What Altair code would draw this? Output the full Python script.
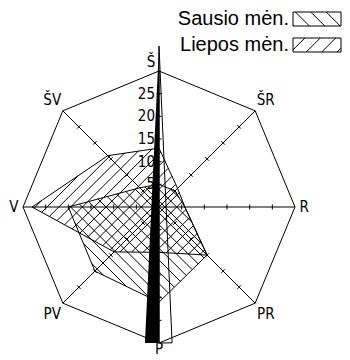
import math
import altair as alt
import pandas as pd

# ---- data ----
directions = ["Š", "ŠR", "R", "PR", "P", "PV", "V", "ŠV"]
dir_angles = [90, 45, 0, -45, -90, -135, 180, 135]
series_names = ["Sausio mėn.", "Liepos mėn."]
sausio = [5, 5, 5.7, 15, 21, 20, 20, 6]
liepos = [13, 5.8, 5.7, 15, 10, 14, 28, 16]
r_max = 30
tick_values = [5, 10, 15, 20, 25]
spike_angles = [90, -90, -95.9]
spike_r = [35.5, 30, 30.2]
sliver_angles = [90, -84.5, -90]
sliver_r = [35.5, 30.1, 30]

# ---- geometry helpers ----
PX = 136 / 30          # pixels per unit
CXP, CYP = 159, 207     # page position of the centre


def pt(r, a):
    t = math.radians(a)
    return (r * math.cos(t), r * math.sin(t))


def page_to_data(px, py):
    return ((px - CXP) / PX, (CYP - py) / PX)


segs = []


def seg(p, q, kind="line"):
    segs.append(dict(x=p[0], y=p[1], x2=q[0], y2=q[1], kind=kind))


def outline(poly, kind="line"):
    n = len(poly)
    for i in range(n):
        seg(poly[i], poly[(i + 1) % n], kind)


def hatch(poly, d, step, kind="hatch"):
    # d=+1 -> '/', d=-1 -> '\'
    us = [x - d * y for x, y in poly]
    vs = [x + d * y for x, y in poly]
    n = len(poly)
    k0 = math.floor(min(us) / step) - 1
    k1 = math.ceil(max(us) / step) + 1
    for k in range(k0, k1 + 1):
        c = (k + 0.5) * step
        hits = []
        for i in range(n):
            j = (i + 1) % n
            ui, uj = us[i], us[j]
            if (ui <= c < uj) or (uj <= c < ui):
                t = (c - ui) / (uj - ui)
                hits.append(vs[i] + t * (vs[j] - vs[i]))
        hits.sort()
        for a, b in zip(hits[0::2], hits[1::2]):
            seg(((c + a) / 2, d * (a - c) / 2), ((c + b) / 2, d * (b - c) / 2), kind)


# frame, axes, ticks
frame = [pt(r_max, a) for a in dir_angles]
outline(frame, "frame")
for a in dir_angles:
    seg((0, 0), pt(r_max, a), "axis")
    for tv in tick_values:
        cx, cy = pt(tv, a)
        ox, oy = pt(0.55, a + 90)
        seg((cx - ox, cy - oy), (cx + ox, cy + oy), "tick")

# series polygons with hatching
poly_s = [pt(v, a) for v, a in zip(sausio, dir_angles)]
poly_l = [pt(v, a) for v, a in zip(liepos, dir_angles)]
HSTEP = 2.6
hatch(poly_s, -1, HSTEP)
hatch(poly_l, +1, HSTEP)
outline(poly_s)
outline(poly_l)

# thin outlined sliver
outline([pt(r, a) for r, a in zip(sliver_r, sliver_angles)])

# legend swatches
legend_boxes = []
for i, name in enumerate(series_names):
    top = 12 + 26 * i
    x0, y0 = page_to_data(293, top)
    x1, y1 = page_to_data(341, top + 14)
    box = [(x0, y0), (x1, y0), (x1, y1), (x0, y1)]
    outline(box)
    hatch(box, -1 if i == 0 else +1, 3.4)
    tx, ty = page_to_data(289, top + 7)
    legend_boxes.append(dict(name=name, x=tx, y=ty))

seg_df = pd.DataFrame(segs)

# black spike
apex = pt(spike_r[0], spike_angles[0])
b1 = pt(spike_r[1], spike_angles[1])
b2 = pt(spike_r[2], spike_angles[2])
spike_df = pd.DataFrame([
    dict(x=apex[0], x2=apex[0], y=apex[1]),
    dict(x=b2[0], x2=b1[0], y=(b1[1] + b2[1]) / 2),
])

# labels
lab = []
for d, a in zip(directions, dir_angles):
    if a == -90:
        rr = 31.4
    elif a % 90 == 0:
        rr = 32
    else:
        rr = 33.3
    x, y = pt(rr, a)
    lab.append(dict(label=d, x=x, y=y))
lab_df = pd.DataFrame(lab)
tick_df = pd.DataFrame(dict(x=[0.0] * len(tick_values), y=tick_values,
                            label=[str(v) for v in tick_values]))
leg_df = pd.DataFrame(legend_boxes)

xs = alt.Scale(domain=[-30, 30], range=[15, 287], nice=False, zero=False)
ys = alt.Scale(domain=[-30, 30], range=[335, 63], nice=False, zero=False)
X = lambda f="x": alt.X(f"{f}:Q", scale=xs, axis=None)
Y = lambda f="y": alt.Y(f"{f}:Q", scale=ys, axis=None)

NARROW = "Liberation Sans Narrow, DejaVu Sans Condensed, Roboto Condensed, sans-serif"

lines = alt.Chart(seg_df).mark_rule(color="black", strokeWidth=1).encode(
    x=X(), y=Y(), x2="x2:Q", y2="y2:Q")

spike = alt.Chart(spike_df).mark_area(color="black", orient="horizontal").encode(
    y=Y(), x=X(), x2="x2:Q")

dir_main = alt.Chart(lab_df[lab_df.label != "Š"]).mark_text(
    font=NARROW, fontSize=15, color="black", baseline="middle", align="center").encode(
    x=X(), y=Y(), text="label:N")
dir_top = alt.Chart(lab_df[lab_df.label == "Š"]).mark_text(
    font=NARROW, fontSize=15, color="black", baseline="middle", align="center", dx=-8).encode(
    x=X(), y=Y(), text="label:N")

ticks_txt = alt.Chart(tick_df).mark_text(
    font=NARROW, fontSize=15, color="black", baseline="middle", align="right", dx=-4).encode(
    x=X(), y=Y(), text="label:N")

legend_txt = alt.Chart(leg_df).mark_text(
    font="Liberation Sans, Arial, sans-serif", fontSize=20, color="black",
    baseline="middle", align="right").encode(x=X(), y=Y(), text="name:N")

chart = alt.layer(lines, spike, dir_main, dir_top, ticks_txt, legend_txt).properties(
    width=334, height=351, padding=0,
    autosize=alt.AutoSizeParams(type="none"),
).configure_view(stroke=None)

chart.save("out.html", embed_options={"renderer": "svg", "actions": False})
